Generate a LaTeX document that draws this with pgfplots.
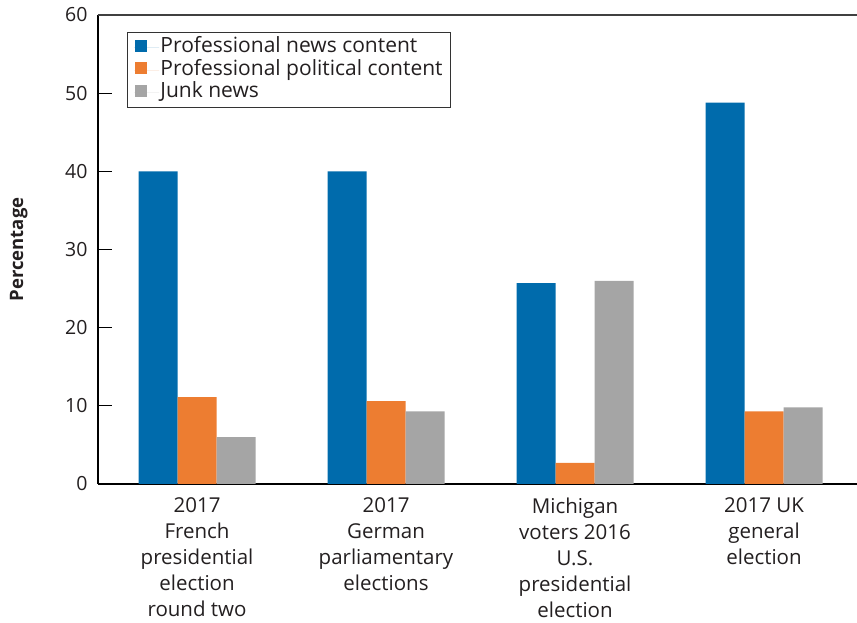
\documentclass[border=0pt]{standalone}
\usepackage{fontspec}
\setmainfont{Open Sans}
\usepackage{pgfplots}
\pgfplotsset{compat=1.18}
\definecolor{cblue}{HTML}{006BAC}
\definecolor{corange}{HTML}{ED7D31}
\definecolor{cgray}{HTML}{A5A5A5}
\definecolor{ctext}{HTML}{231F20}

\begin{document}
\begin{tikzpicture}
  \begin{axis}[
    name=main,
    scale only axis,
    width=759pt, height=469pt,
    ybar=0pt,
    bar width=39pt,
    xmin=-0.524, xmax=3.492,
    ymin=0, ymax=60,
    ytick={0,10,...,60},
    xtick=data,
    xticklabels={
      {2017\\French\\presidential\\election\\round two},
      {2017\\German\\parliamentary\\elections},
      {Michigan\\voters 2016\\U.S.\\presidential\\election},
      {2017 UK\\general\\election}},
    x tick label style={align=center, font=\fontsize{20.5}{26}\selectfont, yshift=-10pt, text=ctext},
    y tick label style={font=\fontsize{19.5}{22}\selectfont, xshift=-7pt, text=ctext},
    /pgf/number format/assume math mode=true,
    axis x line*=bottom,
    axis y line*=left,
    x axis line style={line width=2.8pt},
    y axis line style={line width=2.5pt},
    x tick style={draw=none},
    y tick style={line width=1pt, black},
    tick align=inside,
    major tick length=14pt,
    ylabel={\bfseries Percentage},
    ylabel style={at={(axis description cs:-0.088,0.5)}, anchor=south,
      font=\fontsize{18.5}{20}\selectfont, text=ctext},
    legend style={at={(rel axis cs:0.038,0.964)}, anchor=north west,
      draw=black!80, line width=0.8pt, font=\fontsize{21}{22}\selectfont,
      nodes={text height=15pt, text depth=5pt, inner sep=1.25pt},
      row sep=0pt, inner xsep=7pt, inner ysep=4pt, text=ctext},
    legend cell align=left,
    legend image code/.code={\fill[#1] (1pt,-4pt) rectangle (13pt,8pt);
      \path (0pt,0pt) -- (25pt,0pt);},
  ]
    \addplot[fill=cblue, draw=none] coordinates {(0,40.0) (1,40.0) (2,25.7) (3,48.8)};
    \addplot[fill=corange, draw=none] coordinates {(0,11.1) (1,10.6) (2,2.7) (3,9.3)};
    \addplot[fill=cgray, draw=none] coordinates {(0,6.0) (1,9.3) (2,26.0) (3,9.8)};
    \legend{Professional news content, Professional political content, Junk news}
    \draw[line width=1.2pt, black!75] (rel axis cs:0,1) -- (rel axis cs:1,1);
  \end{axis}
  \pgfresetboundingbox
  \path (main.south west) ++(-98pt,-139pt) coordinate (bl);
  \path (main.north east) ++(0pt,15pt) coordinate (tr);
  \path[use as bounding box] (bl) rectangle (tr);
\end{tikzpicture}
\end{document}
